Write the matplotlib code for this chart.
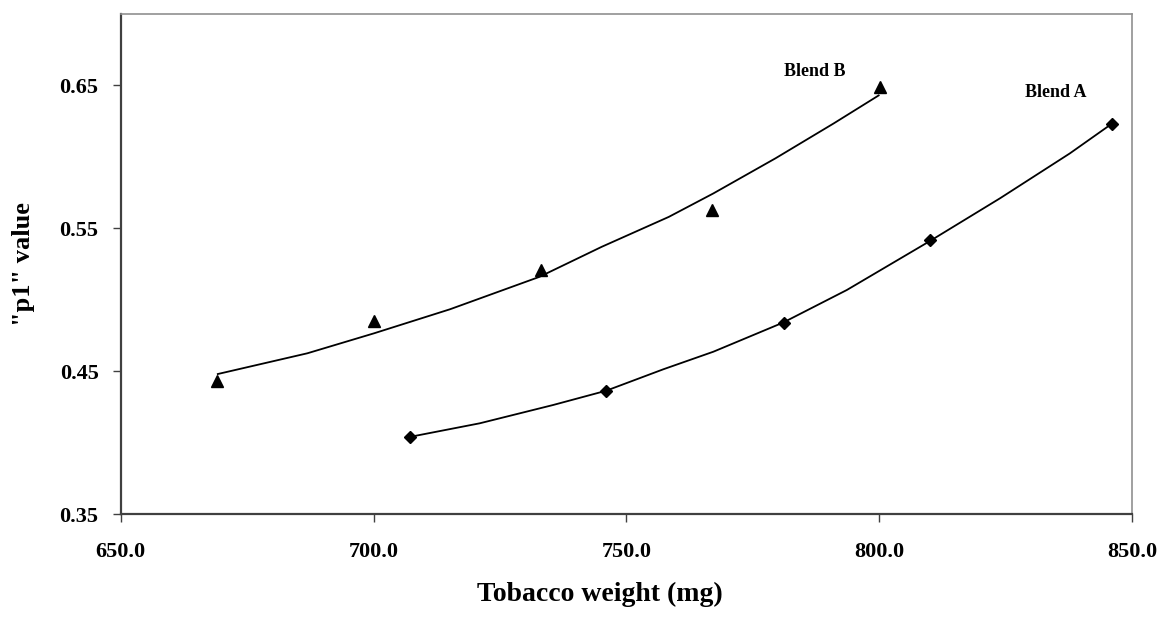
import matplotlib
matplotlib.use("Agg")
import matplotlib.pyplot as plt
from matplotlib.ticker import FormatStrFormatter

plt.rcParams["font.family"] = ["Liberation Serif", "DejaVu Serif"]
plt.rcParams["font.weight"] = "bold"

# measured points
blend_a_x = [707.2, 746.0, 781.1, 810.0, 846.1]
blend_a_y = [0.404, 0.436, 0.484, 0.542, 0.623]
blend_b_x = [669.1, 700.0, 733.1, 767.0, 800.1]
blend_b_y = [0.443, 0.485, 0.521, 0.563, 0.649]

# trend lines
trend_a_x = [707.2, 721.0, 735.5, 746.0, 757.3, 767.2, 781.0, 793.6, 810.0, 823.9, 837.7, 846.1]
trend_a_y = [0.404, 0.4135, 0.4263, 0.4363, 0.4513, 0.4636, 0.484, 0.5068, 0.541, 0.571, 0.6024, 0.6234]
trend_b_x = [669.2, 686.9, 700.1, 715.1, 732.8, 745.1, 758.4, 767.2, 779.5, 791.0, 799.9]
trend_b_y = [0.448, 0.4625, 0.4765, 0.4933, 0.516, 0.537, 0.558, 0.5744, 0.599, 0.6234, 0.643]

x_ticks = [650, 700, 750, 800, 850]
y_ticks = [0.35, 0.45, 0.55, 0.65]

fig = plt.figure(figsize=(11.7, 6.17), dpi=100)
ax = fig.add_axes([0.1032, 0.1669, 0.8643, 0.8104])

ax.plot(trend_b_x, trend_b_y, color="black", linewidth=1.3)
ax.plot(trend_a_x, trend_a_y, color="black", linewidth=1.3)
ax.plot(blend_b_x, blend_b_y, linestyle="none", marker="^", markersize=8.5, color="black")
ax.plot(blend_a_x, blend_a_y, linestyle="none", marker="D", markersize=6.5, color="black")

ax.text(787.3, 0.6595, "Blend B", fontsize=13, fontweight="bold", ha="center", va="center")
ax.text(835.0, 0.645, "Blend A", fontsize=13, fontweight="bold", ha="center", va="center")

ax.set_xlim(650, 850)
ax.set_ylim(0.35, 0.70)
ax.set_xticks(x_ticks)
ax.set_yticks(y_ticks)
ax.xaxis.set_major_formatter(FormatStrFormatter("%.1f"))
ax.yaxis.set_major_formatter(FormatStrFormatter("%.2f"))
ax.tick_params(direction="out", length=6, width=1, colors="#404040", labelcolor="black",
               labelsize=16)
ax.tick_params(axis="x", pad=14)
ax.tick_params(axis="y", pad=10)

for side in ("left", "bottom"):
    ax.spines[side].set_color("#404040")
    ax.spines[side].set_linewidth(1.6)
for side in ("top", "right"):
    ax.spines[side].set_color("#909090")
    ax.spines[side].set_linewidth(1.2)

ax.set_xlabel("Tobacco weight (mg)", fontsize=20, fontweight="bold")
ax.set_ylabel('"p1" value', fontsize=19, fontweight="bold")
ax.xaxis.set_label_coords(0.474, -0.136)
ax.yaxis.set_label_coords(-0.085, 0.5)

fig.savefig("out.png", dpi=100)
